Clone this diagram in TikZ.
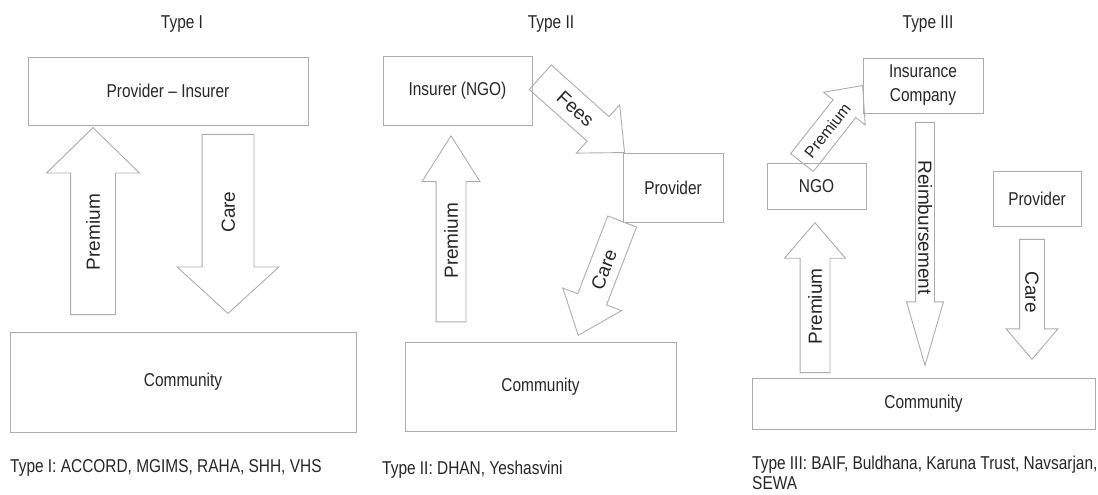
\documentclass[tikz,border=0pt]{standalone}
\usepackage{fontspec}
\setmainfont{Liberation Sans}[FakeStretch=0.83]
\newfontfamily\flowfont{Liberation Sans}
\usetikzlibrary{shapes.arrows, positioning}

\begin{document}
\begin{tikzpicture}[
    x=1pt, y=-1pt,
    box/.style={rectangle, draw=gray!65, line width=0.9pt, inner sep=0pt, text=black!85, font=\fontsize{18.6}{24}\selectfont},
    flow/.style={single arrow, draw=gray!65, line width=0.9pt, text=black!85, font=\flowfont\fontsize{19}{19}\selectfont, text height=13.5pt, text depth=0pt, inner xsep=0pt, anchor=tip},
    heading/.style={font=\fontsize{18.6}{24}\selectfont, text=black!85, anchor=base},
    caption/.style={font=\fontsize{18.6}{19.5}\selectfont, text=black!85, anchor=north west, align=left, inner sep=0pt}
]
\useasboundingbox (0,0) rectangle (1098,495);

% Type I
\node[heading] (title1) at (182,29) {Type I};
\node[box, minimum width=280, minimum height=68] (provins) at (168,91) {Provider -- Insurer};
\node[box, minimum width=346, minimum height=100] (comm1) at (183,382) {Community};

\node[flow, rotate=90, minimum height=187, inner ysep=15.25pt, single arrow head extend=24pt, single arrow tip angle=91.3] (premium1) at (93,127) {Premium};
\node[flow, rotate=90, shape border rotate=180, minimum height=179, inner ysep=18.75pt, single arrow head extend=25pt, single arrow tip angle=95.3] (care1) at (228,314) {Care};

\node[caption] (cap1) at (10,459.5) {Type I: ACCORD, MGIMS, RAHA, SHH, VHS};

% Type II
\node[heading] (title2) at (551,29) {Type II};
\node[box, minimum width=149, minimum height=69] (insurer) at (457.5,90.5) {Insurer (NGO)};
\node[box, minimum width=100, minimum height=69] (provider2) at (673,187.5) {Provider};
\node[box, minimum width=271, minimum height=89] (comm2) at (540.5,386.5) {Community};

\node[flow, rotate=90, minimum height=186, inner ysep=7.75pt, single arrow head extend=14pt, single arrow tip angle=64.7] (premium2) at (451,135) {Premium};
\node[flow, rotate=-41.8, minimum height=113, inner ysep=9.25pt, single arrow head extend=16pt, single arrow tip angle=84.9] (fees) at (625,153) {Fees};
\node[flow, rotate=68.9, shape border rotate=180, minimum height=122, inner ysep=8.25pt, single arrow head extend=16pt, single arrow tip angle=78.4] (care2) at (578,336) {Care};

\node[caption] (cap2) at (382,461) {Type II: DHAN, Yeshasvini};

% Type III
\node[heading] (title3) at (928,29) {Type III};
\node[box, minimum width=120, minimum height=55, align=center] (inscomp) at (923,85.5) {Insurance\\Company};
\node[box, minimum width=99, minimum height=46] (ngo) at (816.5,186) {NGO};
\node[box, minimum width=88, minimum height=55] (provider3) at (1037,198.5) {Provider};
\node[box, minimum width=343, minimum height=51] (comm3) at (923.5,403.5) {Community};

\node[flow, rotate=51.8, minimum height=98, font=\flowfont\fontsize{16}{16}\selectfont, text height=11.5pt, inner ysep=8.25pt, single arrow head extend=12pt, single arrow tip angle=84] (premium3) at (863,85) {Premium};
\node[flow, rotate=-90, minimum height=243, inner ysep=2.25pt, single arrow head extend=9pt, single arrow tip angle=32.4] (reimb) at (925,367) {Reimbursement};
\node[flow, rotate=-90, minimum height=120, inner ysep=5.25pt, single arrow head extend=13.5pt, single arrow tip angle=80.8] (care3) at (1032,360) {Care};
\node[flow, rotate=90, minimum height=150, inner ysep=7.75pt, single arrow head extend=15.5pt, single arrow tip angle=81.2] (premium4) at (815,222) {Premium};

\node[caption] (cap3) at (752,456) {Type III: BAIF, Buldhana, Karuna Trust, Navsarjan,\\SEWA};

\end{tikzpicture}
\end{document}
